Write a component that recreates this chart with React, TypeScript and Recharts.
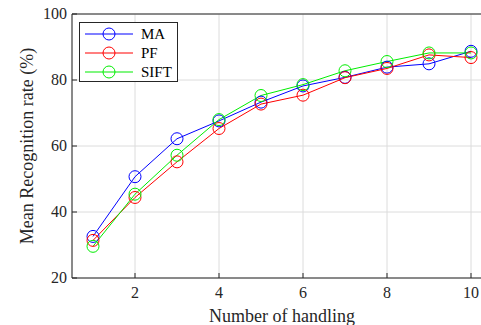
import React from 'react';
import {
  LineChart,
  Line,
  XAxis,
  YAxis,
  CartesianGrid,
  ReferenceLine,
} from 'recharts';

const handling = [1, 2, 3, 4, 5, 6, 7, 8, 9, 10];
const maRate = [32.6, 50.7, 62.2, 67.6, 73.3, 78.2, 80.8, 83.9, 84.9, 88.7];
const pfRate = [31.4, 44.4, 55.2, 65.3, 72.7, 75.4, 80.7, 83.5, 87.6, 86.8];
const siftRate = [29.6, 45.4, 57.2, 68.0, 75.3, 78.6, 82.8, 85.6, 88.2, 88.2];
const xTicks = [2, 4, 6, 8, 10];
const yTicks = [20, 40, 60, 80, 100];

const series = [
  { key: 'ma', name: 'MA', color: '#0000ff' },
  { key: 'pf', name: 'PF', color: '#ff0000' },
  { key: 'sift', name: 'SIFT', color: '#00ee00' },
];

const data = handling.map((n, i) => ({
  n,
  ma: maRate[i],
  pf: pfRate[i],
  sift: siftRate[i],
}));

const FONT = '"Liberation Serif", "Times New Roman", serif';

// ticks point inward, MATLAB style; labels sit outside
function XTick(props: any) {
  const { x, y, payload } = props;
  return (
    <g>
      <line x1={x} y1={y} x2={x} y2={y - 5} stroke="#262626" />
      <text x={x} y={y + 20} textAnchor="middle" fill="#262626" fontFamily={FONT} fontSize={16}>
        {payload.value}
      </text>
    </g>
  );
}

function YTick(props: any) {
  const { x, y, payload } = props;
  return (
    <g>
      <line x1={x} y1={y} x2={x + 5} y2={y} stroke="#262626" />
      <text x={x - 5} y={y + 5} textAnchor="end" fill="#262626" fontFamily={FONT} fontSize={16}>
        {payload.value}
      </text>
    </g>
  );
}

function LegendBox() {
  return (
    <svg width={99} height={60} style={{ position: 'absolute', left: 79, top: 22 }}>
      <rect x={0.5} y={0.5} width={98} height={59} fill="#fff" stroke="#262626" />
      {series.map((s, i) => {
        const cy = 12 + i * 19;
        return (
          <g key={s.key}>
            <line x1={6} y1={cy} x2={54} y2={cy} stroke={s.color} strokeWidth={1.2} />
            <circle cx={30} cy={cy} r={6} fill="none" stroke={s.color} />
            <text x={62} y={cy + 5} fill="#000" fontFamily={FONT} fontSize={15}>
              {s.name}
            </text>
          </g>
        );
      })}
    </svg>
  );
}

export default function App() {
  return (
    <div style={{ position: 'absolute', left: 0, top: 0, width: 481, height: 325, overflow: 'hidden', background: '#fff', fontFamily: FONT }}>
      <LineChart width={500} height={325} data={data} margin={{ top: 14, right: 8, bottom: 0, left: 0 }}>
        <CartesianGrid stroke="#dcdcdc" vertical horizontal />
        <XAxis
          dataKey="n"
          type="number"
          domain={[0.5, 10.5]}
          ticks={xTicks}
          height={47}
          stroke="#262626"
          tickLine={false}
          tickSize={0}
          tickMargin={0}
          tick={<XTick />}
          label={{ value: 'Number of handling', position: 'insideBottom', offset: 3, fill: '#262626', style: { fontSize: 18, fontFamily: FONT } }}
        />
        <YAxis
          type="number"
          domain={[20, 100]}
          ticks={yTicks}
          width={72}
          stroke="#262626"
          tickLine={false}
          tickSize={0}
          tickMargin={0}
          tick={<YTick />}
          label={{ value: 'Mean Recognition rate (%)', angle: -90, position: 'insideLeft', offset: 27, fill: '#262626', style: { textAnchor: 'middle', fontSize: 18, fontFamily: FONT } }}
        />
        <ReferenceLine y={100} stroke="#262626" />
        {series.map((s) => (
          <Line
            key={s.key}
            dataKey={s.key}
            name={s.name}
            stroke={s.color}
            strokeWidth={1}
            type="linear"
            dot={{ r: 6, fill: 'none', stroke: s.color, strokeWidth: 1 }}
            isAnimationActive={false}
          />
        ))}
      </LineChart>
      <LegendBox />
    </div>
  );
}
